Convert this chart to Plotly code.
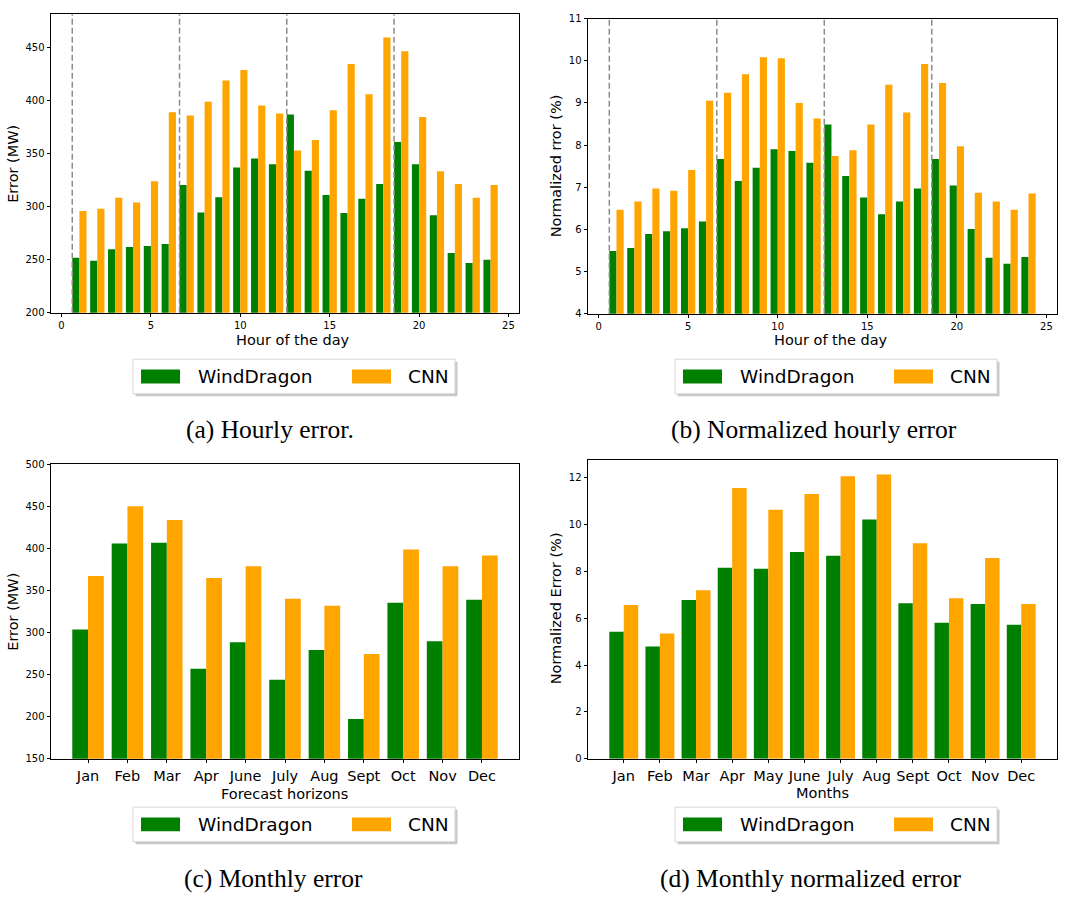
import plotly.graph_objects as go

# ---------------- data ----------------
hours = list(range(1, 25))
hourly_winddragon = [252, 249, 260, 262, 263, 265, 320.5, 294.5, 309, 337, 345.5, 340,
                     387, 334, 311, 294, 307.5, 321.5, 361, 340, 292, 256.5, 247, 250]
hourly_cnn = [296, 298, 308.5, 304, 324, 389, 386, 399, 419, 429, 395.5, 388,
              353, 363, 391, 434.5, 406, 459.5, 446.5, 384.5, 333.5, 321.5, 308.5, 320.5]
norm_hourly_winddragon = [5.49, 5.56, 5.89, 5.96, 6.03, 6.19, 7.67, 7.15, 7.46, 7.90, 7.86, 7.58,
                          8.49, 7.27, 6.76, 6.36, 6.66, 6.97, 7.67, 7.04, 6.01, 5.33, 5.19, 5.35]
norm_hourly_cnn = [6.47, 6.66, 6.97, 6.92, 7.41, 9.05, 9.24, 9.68, 10.08, 10.06, 9.00, 8.63,
                   7.74, 7.88, 8.49, 9.43, 8.77, 9.92, 9.47, 7.97, 6.87, 6.66, 6.47, 6.85]
period_start_hours = [1, 7, 13, 19]

months_c = ["Jan", "Feb", "Mar", "Apr", "June", "July", "Aug", "Sept", "Oct", "Nov", "Dec"]
monthly_winddragon = [303.7, 405.6, 406.7, 257, 288.5, 244, 279.2, 197.2, 335.4, 289.7, 338.9]
monthly_cnn = [367, 450, 433.7, 364.6, 378.7, 340, 331.8, 274.5, 398.6, 378.7, 391.5]

months_d = ["Jan", "Feb", "Mar", "Apr", "May", "June", "July", "Aug", "Sept", "Oct", "Nov", "Dec"]
norm_monthly_winddragon = [5.43, 4.80, 6.78, 8.16, 8.12, 8.83, 8.67, 10.22, 6.65, 5.81, 6.61, 5.73]
norm_monthly_cnn = [6.57, 5.35, 7.20, 11.57, 10.64, 11.31, 12.07, 12.15, 9.21, 6.86, 8.58, 6.61]

series_names = ["WindDragon", "CNN"]
captions = ["(a) Hourly error.", "(b) Normalized hourly error",
            "(c) Monthly error", "(d) Monthly normalized error"]

# ---------------- styling ----------------
W, H = 1085, 897
GREEN, ORANGE = "#008000", "#FFA500"
FONT = "DejaVu Sans"
BAR_W = 0.4


def px(x):
    return x / W


def py(y):
    return 1 - y / H


fig = go.Figure()

panels = [
    ("x", "y", hours, hourly_winddragon, hourly_cnn),
    ("x2", "y2", hours, norm_hourly_winddragon, norm_hourly_cnn),
    ("x3", "y3", months_c, monthly_winddragon, monthly_cnn),
    ("x4", "y4", months_d, norm_monthly_winddragon, norm_monthly_cnn),
]
for xa, ya, xs, g, o in panels:
    fig.add_trace(go.Bar(x=xs, y=g, name=series_names[0], marker_color=GREEN,
                         marker_line_width=0, xaxis=xa, yaxis=ya, showlegend=False))
    fig.add_trace(go.Bar(x=xs, y=o, name=series_names[1], marker_color=ORANGE,
                         marker_line_width=0, xaxis=xa, yaxis=ya, showlegend=False))

# dashed period boundaries on the hourly charts
for xa, ya in [("x", "y"), ("x2", "y2")]:
    for h in period_start_hours:
        fig.add_shape(type="line", xref=xa, yref=f"{ya} domain", x0=h - BAR_W, x1=h - BAR_W,
                      y0=0, y1=1, line=dict(color="#8c8c8c", width=1.5, dash="6px,3px"),
                      layer="above")

common_axis = dict(showline=True, linecolor="black", linewidth=1, mirror=True,
                   ticks="outside", ticklen=3.5, tickwidth=0.8, tickcolor="black",
                   showgrid=False, zeroline=False,
                   tickfont=dict(family=FONT, size=10, color="black"))

dom = {
    1: dict(x=[px(51), px(519)], y=[py(311), py(8.3)]),
    2: dict(x=[px(588), px(1057)], y=[py(312), py(12.7)]),
    3: dict(x=[px(51), px(519)], y=[py(763), py(464.3)]),
    4: dict(x=[px(588), px(1057)], y=[py(763), py(460.3)]),
}

layout_axes = {}
layout_axes["xaxis"] = dict(common_axis, domain=dom[1]["x"], anchor="y", range=[-0.59, 25.59],
                            tickvals=[0, 5, 10, 15, 20, 25])
layout_axes["yaxis"] = dict(common_axis, domain=dom[1]["y"], anchor="x", range=[200, 481.5],
                            tickvals=[200, 250, 300, 350, 400, 450])
layout_axes["xaxis2"] = dict(common_axis, domain=dom[2]["x"], anchor="y2", range=[-0.59, 25.59],
                             tickvals=[0, 5, 10, 15, 20, 25])
layout_axes["yaxis2"] = dict(common_axis, domain=dom[2]["y"], anchor="x2", range=[4, 11],
                             tickvals=[4, 5, 6, 7, 8, 9, 10, 11])
layout_axes["xaxis3"] = dict(common_axis, domain=dom[3]["x"], anchor="y3", type="category",
                             range=[-0.94, 10.94])
layout_axes["xaxis3"]["tickfont"] = dict(family=FONT, size=14.5, color="black")
layout_axes["yaxis3"] = dict(common_axis, domain=dom[3]["y"], anchor="x3", range=[150, 500],
                             tickvals=[150, 200, 250, 300, 350, 400, 450, 500])
layout_axes["xaxis4"] = dict(common_axis, domain=dom[4]["x"], anchor="y4", type="category",
                             range=[-0.99, 11.99])
layout_axes["xaxis4"]["tickfont"] = dict(family=FONT, size=14.5, color="black")
layout_axes["yaxis4"] = dict(common_axis, domain=dom[4]["y"], anchor="x4", range=[0, 12.76],
                             tickvals=[0, 2, 4, 6, 8, 10, 12])

annotations = []


def text(x, y, s, size, angle=0, family=FONT, xanchor="center"):
    annotations.append(dict(x=px(x), y=py(y), xref="paper", yref="paper", text=s,
                            showarrow=False, textangle=angle, xanchor=xanchor, yanchor="middle",
                            font=dict(family=family, size=size, color="black")))


# axis titles
text(13, 160, "Error (MW)", 14.5, -90)
text(555.5, 162, "Normalized rror (%)", 14.5, -90)
text(13, 614, "Error (MW)", 14.5, -90)
text(555.5, 611, "Normalized Error (%)", 14.5, -90)
text(293, 339, "Hour of the day", 14.5)
text(831, 339, "Hour of the day", 14.5)
text(285, 799, "Forecast horizons", 14.5)
text(822, 798, "Months", 14.5)

# captions
for (cx, cy), cap in zip([(270, 429), (814, 429), (273, 884), (810, 884)], captions):
    text(cx, cy, cap, 25.5, family="Liberation Serif")

# legends (boxed, with a soft shadow)
shapes = []
for L, T in [(133, 358), (675, 358), (133, 812), (675, 812)]:
    Wb, Hb = 322, 35
    shapes.append(dict(type="rect", xref="paper", yref="paper", x0=px(L + 2.5), x1=px(L + Wb + 2.5),
                       y0=py(T + Hb + 2.5), y1=py(T + 2.5), fillcolor="#c8c8c8",
                       line=dict(width=0), layer="above"))
    shapes.append(dict(type="rect", xref="paper", yref="paper", x0=px(L), x1=px(L + Wb),
                       y0=py(T + Hb), y1=py(T), fillcolor="white",
                       line=dict(color="#d6d6d6", width=1), layer="above"))
    for (sx, tx), color, name in zip([(8, 63), (219, 273)], [GREEN, ORANGE], series_names):
        shapes.append(dict(type="rect", xref="paper", yref="paper", x0=px(L + sx), x1=px(L + sx + 39),
                           y0=py(T + 24.5), y1=py(T + 10.5), fillcolor=color,
                           line=dict(width=0), layer="above"))
        text(L + tx, T + 17.5, name, 18.5, xanchor="left")

fig.update_layout(
    width=W, height=H, margin=dict(l=0, r=0, t=0, b=0),
    paper_bgcolor="white", plot_bgcolor="white",
    barmode="group", bargap=0.2, bargroupgap=0,
    showlegend=False,
    font=dict(family=FONT, color="black"),
    annotations=annotations, shapes=fig.layout.shapes + tuple(shapes),
    **layout_axes,
)

fig.write_html("out.html", config={"displayModeBar": False},
               post_script="document.body.style.margin='0';")
